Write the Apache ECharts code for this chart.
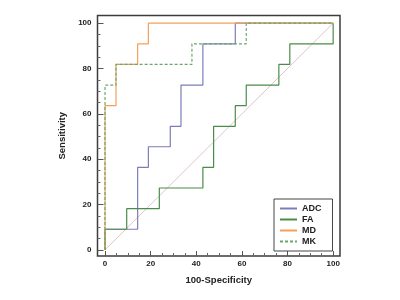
<!DOCTYPE html>
<html>
<head>
<meta charset="utf-8">
<script src="https://cdn.jsdelivr.net/npm/echarts@6/dist/echarts.min.js"></script>
<style>
  html, body { margin: 0; padding: 0; background: #fff; }
  #chart { width: 400px; height: 300px; }
</style>
</head>
<body>
<div id="chart"></div>
<script>
  // ROC operating points (100-Specificity, Sensitivity), steps drawn with step:'end'
  var adcX = [0, 0, 14.3, 19.0, 28.6, 33.3, 42.9, 57.1, 100]
  var adcY = [0, 9.1, 36.4, 45.5, 54.5, 72.7, 90.9, 100, 100]
  var faX = [0, 0, 9.5, 23.8, 42.9, 47.6, 57.1, 61.9, 76.2, 81.0, 100]
  var faY = [0, 9.1, 18.2, 27.3, 36.4, 54.5, 63.6, 72.7, 81.8, 90.9, 100]
  var mdX = [0, 0, 4.8, 14.3, 19.0, 100]
  var mdY = [0, 63.6, 81.8, 90.9, 100, 100]
  var mkX = [0, 0, 4.8, 38.1, 61.9, 100]
  var mkY = [0, 72.7, 81.8, 90.9, 100, 100]
  var refX = [0, 100]
  var refY = [0, 100]

  var majorTicks = [0, 20, 40, 60, 80, 100]
  var minorTicks = [5, 10, 15, 25, 30, 35, 45, 50, 55, 65, 70, 75, 85, 90, 95]

  var FONT = 'Liberation Sans, Arial, sans-serif'
  var labelStyle = { fontFamily: FONT, fontWeight: 'bold', fontSize: 8, color: '#222' }

  function pairs(xs, ys) {
    return xs.map(function (x, i) { return [x, ys[i]] })
  }

  function mainAxis(name, extra, tickLen, labelMargin) {
    return Object.assign({
      type: 'value',
      name: name,
      nameLocation: 'middle',
      nameTextStyle: { fontFamily: FONT, fontWeight: 'bold', fontSize: 9.5, color: '#222' },
      axisLine: { show: false, onZero: false },
      splitLine: { show: false },
      axisTick: {
        show: true,
        inside: true,
        length: tickLen,
        customValues: majorTicks,
        lineStyle: { color: '#555', width: 1 }
      },
      axisLabel: Object.assign({ customValues: majorTicks, margin: labelMargin }, labelStyle)
    }, extra)
  }

  function minorAxis(extra) {
    return Object.assign({
      type: 'value',
      axisLine: { show: false, onZero: false },
      splitLine: { show: false },
      axisLabel: { show: false },
      axisTick: {
        show: true,
        inside: true,
        length: 3,
        customValues: minorTicks,
        lineStyle: { color: '#666', width: 1 }
      }
    }, extra)
  }

  function curve(name, xs, ys, color, type) {
    return {
      name: name,
      type: 'line',
      step: 'end',
      symbol: 'none',
      showSymbol: false,
      data: pairs(xs, ys),
      itemStyle: { color: color },
      lineStyle: { color: color, width: 1.2, type: type || 'solid' }
    }
  }

  var chart = echarts.init(document.getElementById('chart'), null, { renderer: 'canvas' })

  chart.setOption({
    animation: false,
    grid: {
      left: 97.5,
      right: 60,
      top: 15.5,
      bottom: 44,
      show: true,
      borderColor: '#3c3c3c',
      borderWidth: 1.5,
      backgroundColor: '#fff'
    },
    xAxis: [
      mainAxis('100-Specificity', { min: -3.3, max: 103, position: 'bottom', nameGap: 19 }, 5, 4),
      minorAxis({ min: -3.3, max: 103, position: 'bottom' })
    ],
    yAxis: [
      mainAxis('Sensitivity', { min: -2.7, max: 103.4, position: 'left', nameGap: 28, nameRotate: 90 }, 6, 6),
      minorAxis({ min: -2.7, max: 103.4, position: 'left' })
    ],
    legend: {
      data: ['ADC', 'FA', 'MD', 'MK'],
      orient: 'vertical',
      left: 274,
      top: 199,
      itemWidth: 17,
      itemHeight: 9,
      itemGap: 2,
      padding: [5, 11, 5, 5],
      borderColor: '#444',
      borderWidth: 1,
      backgroundColor: '#fff',
      selectedMode: false,
      itemStyle: { opacity: 0 },
      textStyle: { fontFamily: FONT, fontWeight: 'bold', fontSize: 9, color: '#222' }
    },
    series: [
      {
        name: 'ref',
        type: 'line',
        symbol: 'none',
        silent: true,
        data: pairs(refX, refY),
        lineStyle: { color: '#e4c4c8', width: 1 }
      },
      curve('ADC', adcX, adcY, '#7c7cbc'),
      curve('FA', faX, faY, '#4a8c4a'),
      curve('MD', mdX, mdY, '#f4a05a'),
      curve('MK', mkX, mkY, '#6aa86a', [3, 2])
    ]
  })
</script>
</body>
</html>
